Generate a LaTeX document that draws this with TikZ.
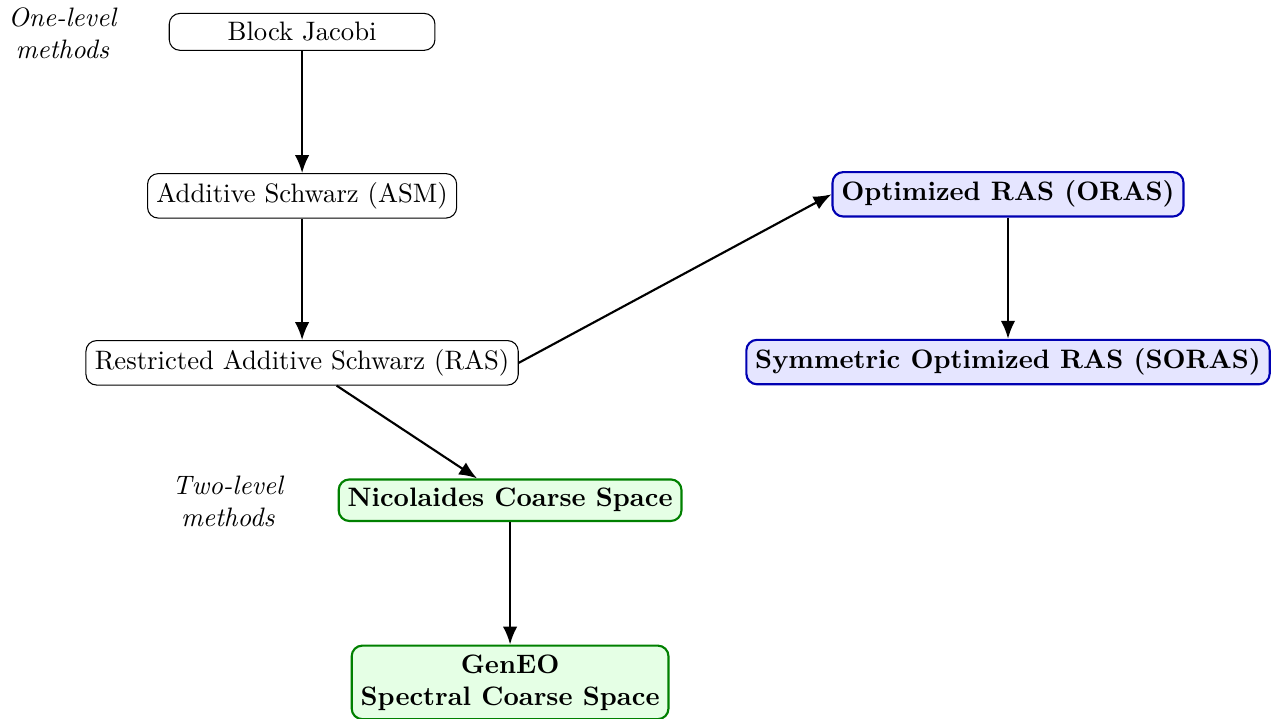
\documentclass[tikz,border=0pt]{standalone}
\usepackage{amsmath, amssymb}
\usepackage{tikz}
\usetikzlibrary{arrows.meta}

\begin{document}
\begin{tikzpicture}[>={Latex[length=6.7pt,width=5.4pt]}]
            \tikzstyle{plain}=[draw, black, rounded corners=4pt, minimum width=3.5cm, align=center]
            \tikzstyle{optim}=[plain, thick, draw=blue!70!black, fill=blue!10, font=\bfseries]
            \tikzstyle{coarse}=[plain, thick, draw=green!50!black, fill=green!10, font=\bfseries]
            \tikzstyle{level}=[align=center, font=\itshape]
            \tikzstyle{link}=[->, thick, black]
            \useasboundingbox (0,0) rectangle (16.85,-9.47);
            % one-level branch
            \node [level] (onelvl) at (0.82,-0.44) {One-level\\methods};
            \node [plain] (bj) at (3.98,-0.42) {Block Jacobi};
            \node [plain] (asm) at (3.98,-2.58) {Additive Schwarz (ASM)};
            \node [plain] (ras) at (3.98,-4.78) {Restricted Additive Schwarz (RAS)};
            % optimized interface conditions
            \node [optim] (oras) at (13.28,-2.56) {Optimized RAS (ORAS)};
            \node [optim] (soras) at (13.28,-4.77) {Symmetric Optimized RAS (SORAS)};
            % two-level branch
            \node [level] (twolvl) at (3.0,-6.61) {Two-level\\methods};
            \node [coarse] (nic) at (6.72,-6.59) {Nicolaides Coarse Space};
            \node [coarse] (geneo) at (6.72,-8.99) {GenEO\\Spectral Coarse Space};
            \draw [link] (bj) -- (asm);
            \draw [link] (asm) -- (ras);
            \draw [link] (ras.east) -- (oras.west);
            \draw [link] (oras) -- (soras);
            \draw [link] (ras) -- (nic);
            \draw [link] (nic) -- (geneo);
\end{tikzpicture}
\end{document}
